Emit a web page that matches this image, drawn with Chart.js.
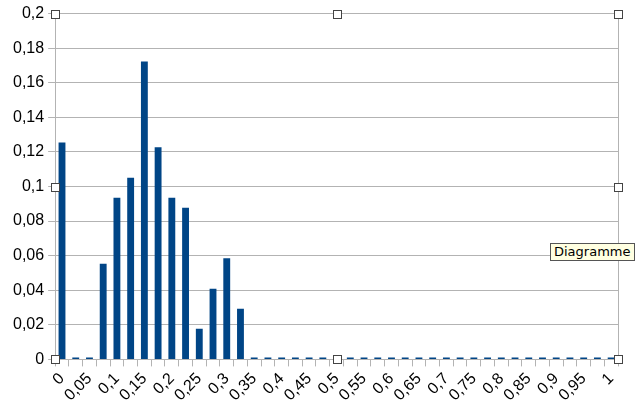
<!DOCTYPE html>
<html>
<head>
  <meta charset="utf-8">
  <title></title>
  <style>
    body { margin: 0; background: #fff; }
    #wrap { position: relative; width: 636px; height: 408px; }
    #tip {
      position: absolute; left: 550px; top: 243px;
      padding: 0 4px 1px 3px; line-height: 15px;
      background: #ffffe1; border: 1px solid #555;
      font: 13px "DejaVu Sans"; color: #000;
    }
  </style>
</head>
<body>
<div id="wrap">
  <canvas id="histChart" width="636" height="408"></canvas>
  <div id="tip">Diagramme</div>
</div>
<script src="https://cdn.jsdelivr.net/npm/chart.js"></script>
<script type="text/javascript">
    // data
    const categories = [0, 0.025, 0.05, 0.075, 0.1, 0.125, 0.15, 0.175, 0.2, 0.225,
      0.25, 0.275, 0.3, 0.325, 0.35, 0.375, 0.4, 0.425, 0.45, 0.475,
      0.5, 0.525, 0.55, 0.575, 0.6, 0.625, 0.65, 0.675, 0.7, 0.725,
      0.75, 0.775, 0.8, 0.825, 0.85, 0.875, 0.9, 0.925, 0.95, 0.975, 1];
    const values = [0.1255, 0, 0, 0.0553, 0.0935, 0.105, 0.1723, 0.1227, 0.0935, 0.0877,
      0.0178, 0.0409, 0.0585, 0.0293, 0, 0, 0, 0, 0, 0,
      0, 0, 0, 0, 0, 0, 0, 0, 0, 0,
      0, 0, 0, 0, 0, 0, 0, 0, 0, 0, 0];
    const xTickLabels = ['0', '0,05', '0,1', '0,15', '0,2', '0,25', '0,3', '0,35', '0,4', '0,45',
      '0,5', '0,55', '0,6', '0,65', '0,7', '0,75', '0,8', '0,85', '0,9', '0,95', '1'];

    const gridGray = '#b3b3b3';

    // frame + selection handles around the plot area
    const framePlugin = {
      id: 'frame',
      afterDatasetsDraw(chart) {
        const a = chart.chartArea;
        const ctx = chart.ctx;
        ctx.save();
        ctx.strokeStyle = gridGray;
        ctx.lineWidth = 1;
        ctx.beginPath();
        ctx.moveTo(Math.round(a.right) + 0.5, a.top);
        ctx.lineTo(Math.round(a.right) + 0.5, a.bottom);
        ctx.stroke();
        const mx = (a.left + a.right) / 2, my = (a.top + a.bottom) / 2;
        const pts = [[a.left, a.top], [mx, a.top], [a.right, a.top],
          [a.left, my], [a.right, my],
          [a.left, a.bottom], [mx, a.bottom], [a.right, a.bottom]];
        pts.forEach(p => {
          const x = Math.round(p[0] - 4) + 0.5, y = Math.round(p[1] - 4) + 0.5;
          ctx.fillStyle = '#fff';
          ctx.fillRect(x, y, 8, 8);
          ctx.strokeStyle = '#444';
          ctx.strokeRect(x, y, 8, 8);
        });
        ctx.restore();
      }
    };

    const data = {
      labels: categories,
      datasets: [{
        data: values,
        backgroundColor: '#004586',
        borderWidth: 0,
        barPercentage: 0.5,
        categoryPercentage: 1.0,
        minBarLength: 2
      }]
    };

    const config = {
      type: 'bar',
      data: data,
      plugins: [framePlugin],
      options: {
        responsive: false,
        animation: false,
        layout: { padding: { left: 9, right: 18, top: 6, bottom: 0 } },
        plugins: { legend: { display: false }, tooltip: { enabled: false } },
        scales: {
          x: {
            grid: { drawOnChartArea: false, color: gridGray, tickLength: 7, offset: true },
            border: { color: gridGray },
            ticks: {
              autoSkip: false,
              minRotation: 45, maxRotation: 45,
              color: '#000',
              font: { family: 'Liberation Sans', size: 16 },
              padding: 3,
              callback: function(val, i) { return i % 2 === 0 ? xTickLabels[i / 2] : ''; }
            }
          },
          y: {
            min: 0, max: 0.2,
            grid: { color: gridGray, tickLength: 7 },
            border: { color: gridGray },
            ticks: {
              stepSize: 0.02,
              color: '#000',
              font: { family: 'Liberation Sans', size: 16 },
              padding: 4,
              callback: function(v) { return String(+v.toFixed(2)).replace('.', ','); }
            }
          }
        }
      }
    };

    const myChart = new Chart(document.getElementById('histChart'), config);
</script>
</body>
</html>
